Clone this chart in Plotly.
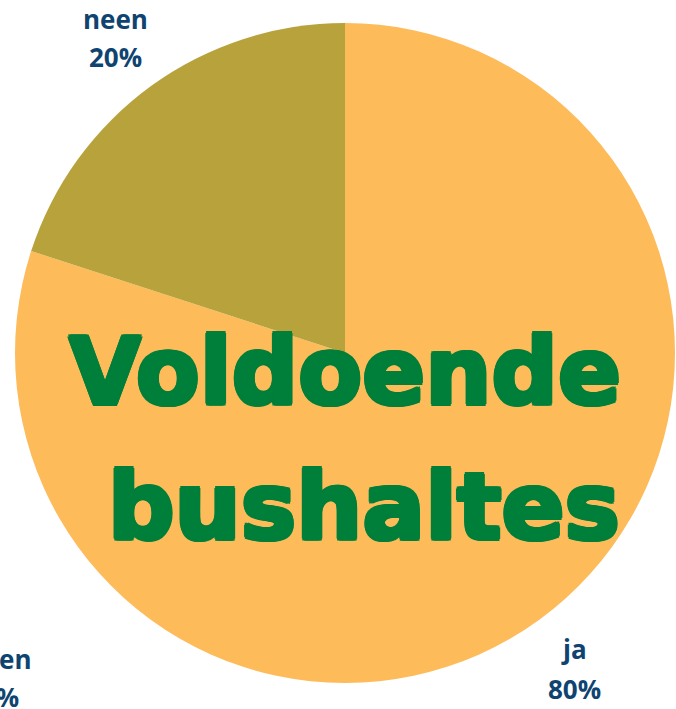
import plotly.graph_objects as go

# Survey answers: are there enough bus stops?
answers = ["ja", "neen", "geen"]
shares = [80, 20, 0]
slice_colors = ["#FDBB5A", "#B8A23B", "#7F7F7F"]
title_lines = ["Voldoende", "bushaltes"]

W, H = 676, 709

fig = go.Figure(
    go.Pie(
        labels=answers,
        values=shares,
        sort=False,
        direction="clockwise",
        rotation=0,
        marker=dict(colors=slice_colors, line=dict(width=0)),
        textinfo="none",
        hoverinfo="label+percent",
        showlegend=False,
        domain=dict(x=[15 / W, 675 / W], y=[26 / H, 686 / H]),
    )
)

label_font = dict(family="Open Sans, sans-serif", size=26, color="#0F4470")
total = sum(shares)
# (center x, name line center y, percent line center y) for each label
label_pos = {"ja": (574, 649, 689), "neen": (116, 19, 57), "geen": (0, 659, 697)}

for name, value in zip(answers, shares):
    px, py1, py2 = label_pos[name]
    for txt, py in [(name, py1), (f"{round(100 * value / total)}%", py2)]:
        fig.add_annotation(
            x=px / W, y=1 - py / H, xref="paper", yref="paper",
            text=f"<b>{txt}</b>",
            showarrow=False, font=label_font, align="center",
            xanchor="center", yanchor="middle",
        )

green = "#007F3A"
r = 2.2
offsets = [(r, 0), (-r, 0), (0, r), (0, -r), (1.6, 1.6), (-1.6, -1.6), (1.6, -1.6), (-1.6, 1.6)]
thick = ", ".join(f"{dx}px {dy}px 0 {green}" for dx, dy in offsets)
title_font = dict(family="DejaVu Sans, sans-serif", size=93, color=green, shadow=thick)
for line, (cx, cy) in zip(title_lines, [(345, 372), (364, 507)]):
    fig.add_annotation(
        x=cx / W, y=1 - cy / H, xref="paper", yref="paper",
        text=f"<b>{line}</b>", showarrow=False, font=title_font,
        xanchor="center", yanchor="middle",
    )

fig.update_layout(
    width=W, height=H,
    margin=dict(l=0, r=0, t=0, b=0),
    paper_bgcolor="white", plot_bgcolor="white",
)

fig.write_html("out.html")
